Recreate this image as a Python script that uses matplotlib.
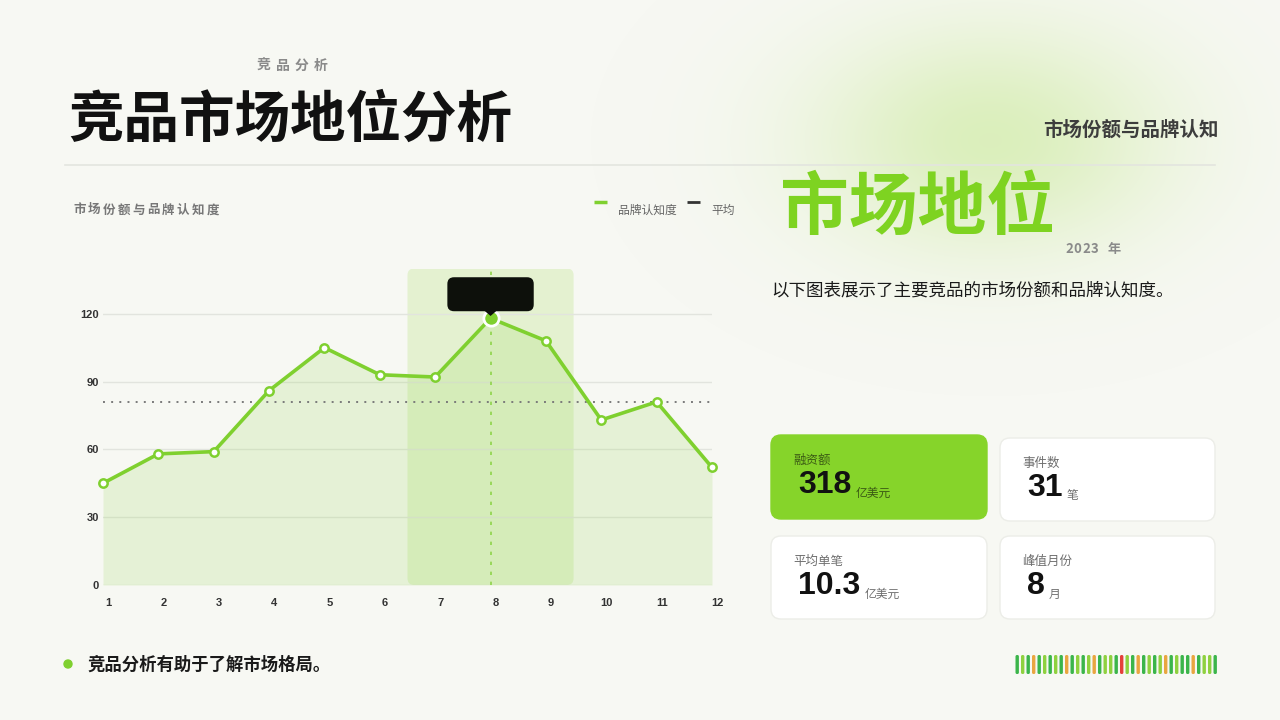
import numpy as np
import matplotlib
matplotlib.use('Agg')
import matplotlib.pyplot as plt
import matplotlib.transforms as mtransforms
from matplotlib.patches import FancyBboxPatch, Polygon, Circle

plt.rcParams['font.family'] = ['Noto Sans CJK SC', 'DejaVu Sans']

# ---- data ----
months = np.arange(1, 13)
awareness = np.array([45, 58, 59, 86, 105, 93, 92, 118, 108, 73, 81, 52])
y_ticks = [0, 30, 60, 90, 120]
peak_month = 8

kpi_labels = ['融资额', '事件数', '平均单笔', '峰值月份']
kpi_values = ['318', '31', '10.3', '8']
kpi_units = ['亿美元', '笔', '亿美元', '月']

# colour codes of the little bar strip (D dark green, L lime, O orange, R red)
strip_codes = 'DLDODLDLDODLDLODL' + 'LDRLDODLDLODLDDODLLD'

# ---- style ----
bg = '#f7f8f3'
green = '#7fd02f'
card_green = '#86d42a'
num_font = ['Liberation Sans', 'DejaVu Sans']
strip_cols = {'D': '#3bb54a', 'L': '#8fd13f', 'O': '#e9a640', 'R': '#e5403a'}

fig = plt.figure(figsize=(12.8, 7.2), dpi=100)
fig.patch.set_facecolor(bg)

# decoration layer in pixel coordinates (y down)
deco = fig.add_axes([0, 0, 1, 1])
deco.axis('off')

gx, gy = np.meshgrid(np.arange(1280), np.arange(720))
glow = np.exp(-(((gx - 990) / 125.0) ** 2 + ((gy - 140) / 80.0) ** 2) / 2)
rgba = np.zeros((720, 1280, 4))
rgba[..., :3] = [0.80, 0.92, 0.62]
rgba[..., 3] = 0.65 * glow
deco.imshow(rgba, extent=[0, 1280, 720, 0], zorder=0, interpolation='bilinear')
deco.set_aspect('auto')
deco.set_xlim(0, 1280)
deco.set_ylim(720, 0)


def spaced(x, y, s, pitch, **kw):
    for i, ch in enumerate(s):
        deco.text(x + i * pitch, y, ch, va='center', ha='left', **kw)


# header
spaced(257, 66, '竞品分析', 19, fontsize=10, color='#8a8a8a', fontweight='bold')
deco.text(68, 121, '竞品市场地位分析', fontsize=40, fontweight='bold',
          color='#111111', va='center', ha='left')
deco.plot([65, 1215], [165, 165], color='#e3e5df', lw=1.2)

# chart header + legend
spaced(73, 210, '市场份额与品牌认知度', 14.8, fontsize=9, color='#777777',
       fontweight='bold')
deco.plot([594, 607], [202, 202], color=green, lw=2.5, solid_capstyle='butt')
deco.text(618, 210, '品牌认知度', fontsize=8.5, color='#666666', va='center')
deco.plot([687, 700], [202, 202], color='#333333', lw=2, solid_capstyle='butt')
deco.text(711, 210, '平均', fontsize=8.5, color='#666666', va='center')

# right side header
deco.text(1219, 130, '市场份额与品牌认知', fontsize=14, fontweight='bold',
          color='#3d3d3d', va='center', ha='right')
deco.text(780, 209, '市场地位', fontsize=49.5, fontweight='bold',
          color='#7ed321', va='center', ha='left')
spaced(1065, 249, '2023 年', 8.6, fontsize=9.5, color='#8a8a8a',
       fontweight='bold')
deco.text(771, 291, '以下图表展示了主要竞品的市场份额和品牌认知度。',
          fontsize=12.6, color='#1a1a1a', va='center', ha='left')

# KPI cards
cards = [(771, 435, 216, 84), (1000, 438, 215, 83),
         (771, 536, 216, 83), (1000, 536, 215, 83)]
value_texts = []
for i, (cx, cy, cw, chh) in enumerate(cards):
    hot = i == 0
    deco.add_patch(FancyBboxPatch((cx, cy), cw, chh,
                                  boxstyle='round,pad=0,rounding_size=10',
                                  fc=card_green if hot else 'white',
                                  ec=card_green if hot else '#ecede8',
                                  lw=1, zorder=2))
    lab_col = '#3b5a14' if hot else '#6e6e6e'
    deco.text(cx + 22, cy + 25, kpi_labels[i], fontsize=9, color=lab_col,
              va='center', ha='left', zorder=3)
    vt = deco.text(cx + 27, cy + 50, kpi_values[i], fontsize=23,
                   fontweight='bold', family=num_font, color='#111111',
                   va='center', ha='left', zorder=3)
    value_texts.append((vt, cy, lab_col))

fig.canvas.draw()
renderer = fig.canvas.get_renderer()
inv = deco.transData.inverted()
for i, (vt, cy, lab_col) in enumerate(value_texts):
    bb = vt.get_window_extent(renderer)
    xr = inv.transform((bb.x1, bb.y0))[0]
    deco.text(xr + 4, cy + 58, kpi_units[i], fontsize=8.5, color=lab_col,
              va='center', ha='left', zorder=3)

# bottom note
deco.add_patch(Circle((68, 664), 4, color=green, zorder=3))
deco.text(87, 665, '竞品分析有助于了解市场格局。', fontsize=12.5,
          fontweight='bold', color='#1a1a1a', va='center', ha='left')

# bar strip
pitch = 198 / (len(strip_codes) - 1)
for i, c in enumerate(strip_codes):
    deco.add_patch(FancyBboxPatch((1015.5 + i * pitch, 655), 3.4, 19,
                                  boxstyle='round,pad=0,rounding_size=1.5',
                                  fc=strip_cols[c], ec='none', zorder=3))

# ---- chart ----
ax_l, ax_r, ax_b, ax_t = 103, 712, 585, 268.5
ax = fig.add_axes([ax_l / 1280, 1 - ax_b / 720, (ax_r - ax_l) / 1280,
                   (ax_b - ax_t) / 720])
ax.set_xlim(1, 12)
ax.set_ylim(0, 140)
ax.patch.set_alpha(0)
for s in ax.spines.values():
    s.set_visible(False)

px_x = (ax_r - ax_l) / 11
px_y = (ax_b - ax_t) / 140
aspect = px_x / px_y

ax.set_yticks(y_ticks)
ax.set_xticks(months)
ax.tick_params(length=0, labelsize=8, labelcolor='#333333')
ax.tick_params(axis='y', pad=3)
ax.tick_params(axis='x', pad=9)
shift = mtransforms.ScaledTranslation(5 / 100, 0, fig.dpi_scale_trans)
for lab in ax.get_xticklabels():
    lab.set_transform(lab.get_transform() + shift)
for lab in ax.get_xticklabels() + ax.get_yticklabels():
    lab.set_fontweight('bold')
    lab.set_family(num_font)
ax.grid(axis='y', color='#e2e4de', lw=1)
ax.grid(axis='x', visible=False)
ax.set_axisbelow(True)

# highlight band around the peak
ax.add_patch(FancyBboxPatch((peak_month - 1.5, 0), 3, 140,
                            boxstyle='round,pad=0,rounding_size=0.12',
                            mutation_aspect=aspect, fc='#cdeaa6', alpha=0.45,
                            ec='none', zorder=0.5))

ax.fill_between(months, awareness, 0, color='#8fd44a', alpha=0.17, lw=0,
                zorder=1)
ax.axhline(awareness.mean(), color='#7a7a7a', lw=1.4, ls=(0, (1, 3.2)),
           zorder=2)
ax.axvline(peak_month, color='#8fd44a', lw=1.2, ls=(0, (2, 4)), zorder=2)
ax.plot(months, awareness, color=green, lw=2.6, marker='o', ms=6,
        mfc='white', mec=green, mew=1.8, zorder=3, clip_on=False)
peak_val = awareness[peak_month - 1]
ax.plot(peak_month, peak_val, 'o', ms=11, mfc=green, mec='white', mew=2,
        zorder=4, clip_on=False)

# tooltip (empty black box) over the peak
tip_bottom = peak_val + 7 / px_y
ax.add_patch(FancyBboxPatch((peak_month - 0.78, tip_bottom), 1.56, 34 / px_y,
                            boxstyle='round,pad=0,rounding_size=0.12',
                            mutation_aspect=aspect, fc='#0d100b', ec='none',
                            clip_on=False, zorder=5))
ax.add_patch(Polygon([(peak_month - 6 / px_x, tip_bottom + 0.2),
                      (peak_month + 6 / px_x, tip_bottom + 0.2),
                      (peak_month, peak_val + 1)],
                     closed=True, fc='#0d100b', ec='none', clip_on=False,
                     zorder=5))

fig.savefig('out.png', dpi=100, facecolor=bg)
